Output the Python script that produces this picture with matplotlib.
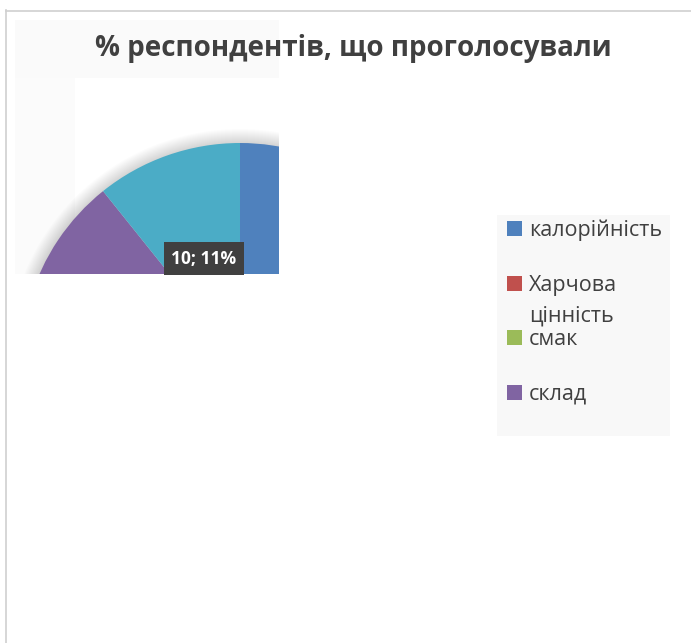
import math
import matplotlib
matplotlib.use("Agg")
import matplotlib.pyplot as plt
from matplotlib.patches import Rectangle, Circle

# --- data ---------------------------------------------------------------
categories = ["калорійність", "Харчова\nцінність", "смак", "склад", "ціна"]
votes = [35, 23, 16, 9, 10]
colors = ["#4F81BD", "#C0504D", "#9BBB59", "#8064A2", "#4BACC6"]
legend_count = 4          # entries shown in the legend box
labelled = [4]            # slices carrying a data label
title = "% респондентів, що проголосували"

FONT = ["Open Sans", "DejaVu Sans"]
TXT = "#404040"

W, H = 691, 643
fig = plt.figure(figsize=(W / 100, H / 100), dpi=100)
fig.patch.set_facecolor("white")

# one canvas-sized axes measured in pixels, y pointing up
ax = fig.add_axes([0, 0, 1, 1])
ax.set_xlim(0, W)
ax.set_ylim(0, H)
ax.axis("off")


def Y(y):
    return H - y


def rect(x0, y0, x1, y1, color, z=0):
    r = Rectangle((x0, Y(y1)), x1 - x0, y1 - y0, color=color, lw=0, zorder=z)
    ax.add_patch(r)
    return r


# frame lines of the chart area
ax.plot([6, W], [Y(10.5), Y(10.5)], color="#CFCFCF", lw=1.2, zorder=0)
ax.plot([6.5, 6.5], [Y(10), Y(H)], color="#CFCFCF", lw=1.2, zorder=0)

# faint backdrop behind the plot area
rect(15, 20, 279, 78, "#FAFAFA")
rect(15, 78, 75, 274, "#FBFBFB")

# pie: centre (240, 362) px, radius 219 px, visible only inside the plot area
R = 219
cx, cy = 240, Y(362)
clip = Rectangle((15, Y(274)), 279 - 15, 274 - 20, transform=ax.transData)

# soft outer shadow
for k in range(1, 15):
    c = Circle((cx, cy), R + k, facecolor="black", edgecolor="none",
               alpha=0.012, zorder=0.5)
    ax.add_patch(c)
    c.set_clip_path(clip)
    c.set_clip_on(True)

wedges, _ = ax.pie(votes, colors=colors, startangle=90, counterclock=False,
                   center=(cx, cy), radius=R, frame=True,
                   wedgeprops=dict(linewidth=0))
ax.set_xlim(0, W)
ax.set_ylim(0, H)
ax.set_aspect("auto")
ax.axis("off")
for w in wedges:
    w.set_zorder(1)
    w.set_clip_path(clip)
    w.set_clip_on(True)

# data label at half radius on the slice's mid-angle
total = sum(votes)
start = 90
for i, v in enumerate(votes):
    sweep = 360 * v / total
    if i in labelled:
        mid = math.radians(start - sweep / 2)
        pct = round(100 * v / total)
        ax.text(cx + 0.5 * R * math.cos(mid), cy + 0.5 * R * math.sin(mid),
                f"{v}; {pct}%", ha="center", va="center", color="white",
                fontsize=12.5, fontweight="bold", family=FONT, zorder=3,
                bbox=dict(boxstyle="square,pad=0.42", fc="#404040", ec="none"))
    start -= sweep

# title
ax.text(353.5, Y(56), title, ha="center", va="baseline", fontsize=20,
        fontweight="bold", color=TXT, family=FONT)

# legend box
rect(497, 215, 670, 436, "#F8F8F8")
base_y = [236, 291, 345, 400]
for i in range(legend_count):
    y = base_y[i]
    rect(507, y - 15, 522, y, colors[i], z=1)
    for j, line in enumerate(categories[i].split("\n")):
        ax.text(529, Y(y + 31 * j), line, ha="left", va="baseline",
                fontsize=15.5, color=TXT, family=FONT)

fig.savefig("out.png", dpi=100)
